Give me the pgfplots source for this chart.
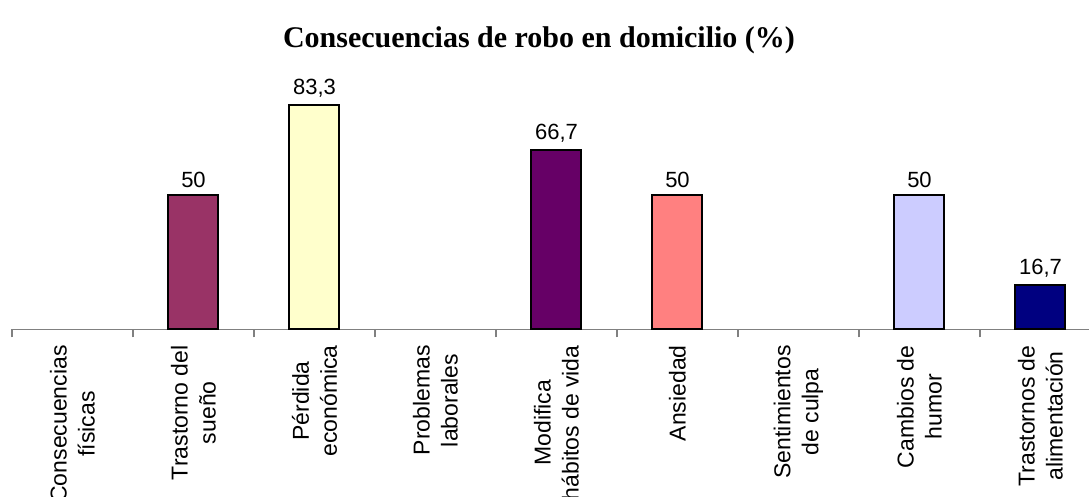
\documentclass[border=0pt]{standalone}
\usepackage{pgfplots}
\pgfplotsset{compat=1.18}
\usepackage{fontspec}
\setmainfont{Liberation Sans}
\newfontfamily\titlefont{Liberation Serif}
\definecolor{c1}{HTML}{993366}
\definecolor{c2}{HTML}{FFFFCC}
\definecolor{c4}{HTML}{660066}
\definecolor{c5}{HTML}{FF8080}
\definecolor{c7}{HTML}{CCCCFF}
\definecolor{c8}{HTML}{000080}
\pgfplotsset{mybar/.style={ybar, bar width=25pt, bar shift=0pt, fill=#1, draw=black, line width=1pt,
  nodes near coords, every node near coord/.append style={font=\fontsize{11}{13}\selectfont, text=black},
  /pgf/number format/.cd, use comma, fixed, precision=1, assume math mode=true}}
\begin{document}
\begin{tikzpicture}
\begin{axis}[
  at={(0,0)}, anchor=south west,
  scale only axis, width=544.5pt, height=134.5pt,
  xmin=-0.5, xmax=8.5, ymin=0, ymax=100,
  clip=false,
  axis y line=none, axis x line*=bottom,
  axis line style={color=gray, line width=0.6pt},
  xtick={0,...,8},
  xticklabels={Consecuencias\\físicas, Trastorno del\\sueño, Pérdida\\económica, Problemas\\laborales, Modifica\\hábitos de vida, Ansiedad, Sentimientos\\de culpa, Cambios de\\humor, Trastornos de\\alimentación},
  major tick length=0pt,
  minor xtick={-0.5,0.5,1.5,2.5,3.5,4.5,5.5,6.5,7.5,8.5},
  minor tick length=4pt, tick align=outside,
  every tick/.style={color=gray, line width=0.6pt},
  xticklabel style={yshift=-7.75pt, rotate=90, anchor=east, align=center, font=\fontsize{11.5}{14}\selectfont, inner sep=0pt},
]
\addplot[mybar=c1] coordinates {(1,50)};
\addplot[mybar=c2] coordinates {(2,83.3)};
\addplot[mybar=c4] coordinates {(4,66.7)};
\addplot[mybar=c5] coordinates {(5,50)};
\addplot[mybar=c7] coordinates {(7,50)};
\addplot[mybar=c8] coordinates {(8,16.7)};
\end{axis}
\node[font=\titlefont\bfseries\fontsize{15}{18}\selectfont] at (263.5pt,144.5pt) {Consecuencias de robo en domicilio (\%)};
\pgfresetboundingbox
\useasboundingbox (-6pt,-83.75pt) rectangle (538.5pt,164.75pt);
\end{tikzpicture}
\end{document}
